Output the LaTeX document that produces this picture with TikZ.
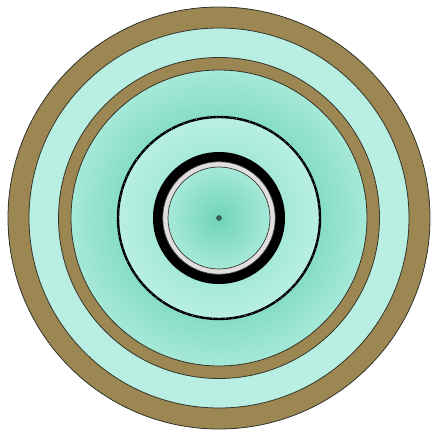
\documentclass[tikz,border=0pt]{standalone}
\usepackage{tikz}

\definecolor{bark}{HTML}{9C8652}
\definecolor{rim}{HTML}{34372E}
\definecolor{pondmid}{HTML}{6FD4B7}
\definecolor{pondlight}{HTML}{A6E9D8}
\definecolor{pondpale}{HTML}{B8EFE2}
\definecolor{ponddeep}{HTML}{86DDC4}
\definecolor{ringgray}{HTML}{E0DEDE}

% radii scaled so that 25bp = outer rim (211)
\pgfdeclareradialshading{pond}{\pgfpoint{0bp}{0bp}}{%
  color(0bp)=(pondmid);
  color(6bp)=(pondlight);
  color(7.8bp)=(pondlight);
  color(11.9bp)=(pondpale);
  color(12.0bp)=(ponddeep);
  color(17.5bp)=(pondlight);
  color(19bp)=(pondpale);
  color(25bp)=(pondpale)}

\begin{document}
\begin{tikzpicture}[
  x=1pt, y=1pt,
  band/.style={fill=bark, draw=rim, line width=0.8pt, even odd rule},
  wall/.style={draw=black, line width=2.4pt},
  collar/.style={draw=black, line width=10pt}
]
\useasboundingbox (0,0) rectangle (432,437);
\coordinate (c) at (219,219);

% water
\fill[shading=pond] (c) circle (211);

% bands
\draw[band] (c) circle (211) (c) circle (190);
\draw[band] (c) circle (160.5) (c) circle (148);

% inner rings
\draw[wall] (c) circle (101);
\draw[white!80!gray, line width=0.5pt, dash pattern=on 0.7pt off 6pt] (c) circle (101);
\draw[collar] (c) circle (61);
\draw[ringgray, line width=5.5pt] (c) circle (53.6);
\draw[rim, line width=0.7pt] (c) circle (51);
\draw[rim, line width=0.5pt] (c) circle (56.2);

% centre
\filldraw[fill=pondmid!50!black, draw=rim, line width=0.6pt] (c) circle (2.4);
\end{tikzpicture}
\end{document}
